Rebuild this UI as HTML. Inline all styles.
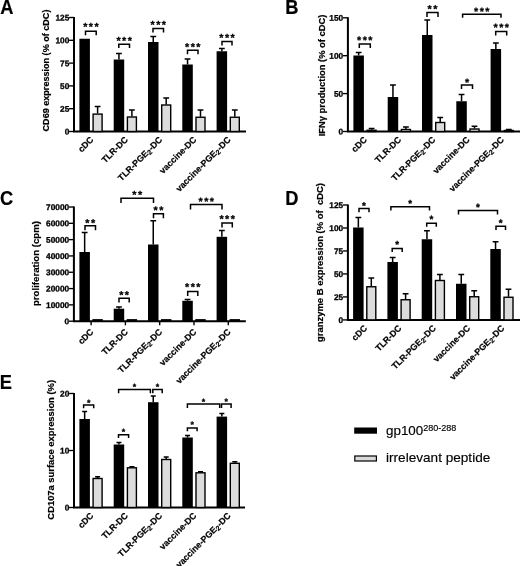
<!DOCTYPE html>
<html><head><meta charset="utf-8"><title>Figure</title>
<style>html,body{margin:0;padding:0;background:#fff}svg{display:block}text{font-family:"Liberation Sans", Arial, sans-serif;fill:#000}</style>
</head><body>
<svg width="520" height="566" viewBox="0 0 520 566">
<rect width="520" height="566" fill="#fff"/>
<path d="M74.00 16.90V131.50H246.00" stroke="#000" stroke-width="2" fill="none"/>
<path d="M69.10 131.50H74.00" stroke="#000" stroke-width="1.35"/>
<text transform="translate(69.30 134.55) rotate(0.05)" font-size="8.3" font-weight="bold" text-anchor="end" stroke="#000" stroke-width="0.3">0</text>
<path d="M69.10 108.70H74.00" stroke="#000" stroke-width="1.35"/>
<text transform="translate(69.30 111.75) rotate(0.05)" font-size="8.3" font-weight="bold" text-anchor="end" stroke="#000" stroke-width="0.3">25</text>
<path d="M69.10 85.90H74.00" stroke="#000" stroke-width="1.35"/>
<text transform="translate(69.30 88.95) rotate(0.05)" font-size="8.3" font-weight="bold" text-anchor="end" stroke="#000" stroke-width="0.3">50</text>
<path d="M69.10 63.10H74.00" stroke="#000" stroke-width="1.35"/>
<text transform="translate(69.30 66.15) rotate(0.05)" font-size="8.3" font-weight="bold" text-anchor="end" stroke="#000" stroke-width="0.3">75</text>
<path d="M69.10 40.30H74.00" stroke="#000" stroke-width="1.35"/>
<text transform="translate(69.30 43.35) rotate(0.05)" font-size="8.3" font-weight="bold" text-anchor="end" stroke="#000" stroke-width="0.3">100</text>
<path d="M69.10 17.50H74.00" stroke="#000" stroke-width="1.35"/>
<text transform="translate(69.30 20.55) rotate(0.05)" font-size="8.3" font-weight="bold" text-anchor="end" stroke="#000" stroke-width="0.3">125</text>
<rect x="79.40" y="38.75" width="10.50" height="92.75" fill="#000"/>
<path d="M97.60 113.60V106.50M94.70 106.50H100.50" stroke="#000" stroke-width="1.5" fill="none"/>
<rect x="93.10" y="114.10" width="9.00" height="17.40" fill="#dcdcdc" stroke="#000" stroke-width="1.4"/>
<path d="M118.95 59.50V53.50M116.05 53.50H121.85" stroke="#000" stroke-width="1.5" fill="none"/>
<rect x="113.70" y="59.50" width="10.50" height="72.00" fill="#000"/>
<path d="M131.90 116.50V110.00M129.00 110.00H134.80" stroke="#000" stroke-width="1.5" fill="none"/>
<rect x="127.40" y="117.00" width="9.00" height="14.50" fill="#dcdcdc" stroke="#000" stroke-width="1.4"/>
<path d="M153.25 42.00V36.50M150.35 36.50H156.15" stroke="#000" stroke-width="1.5" fill="none"/>
<rect x="148.00" y="42.00" width="10.50" height="89.50" fill="#000"/>
<path d="M166.20 104.50V98.00M163.30 98.00H169.10" stroke="#000" stroke-width="1.5" fill="none"/>
<rect x="161.70" y="105.00" width="9.00" height="26.50" fill="#dcdcdc" stroke="#000" stroke-width="1.4"/>
<path d="M187.55 64.50V59.00M184.65 59.00H190.45" stroke="#000" stroke-width="1.5" fill="none"/>
<rect x="182.30" y="64.50" width="10.50" height="67.00" fill="#000"/>
<path d="M200.50 116.75V110.00M197.60 110.00H203.40" stroke="#000" stroke-width="1.5" fill="none"/>
<rect x="196.00" y="117.25" width="9.00" height="14.25" fill="#dcdcdc" stroke="#000" stroke-width="1.4"/>
<path d="M221.85 51.25V48.50M218.95 48.50H224.75" stroke="#000" stroke-width="1.5" fill="none"/>
<rect x="216.60" y="51.25" width="10.50" height="80.25" fill="#000"/>
<path d="M234.80 116.75V110.00M231.90 110.00H237.70" stroke="#000" stroke-width="1.5" fill="none"/>
<rect x="230.30" y="117.25" width="9.00" height="14.25" fill="#dcdcdc" stroke="#000" stroke-width="1.4"/>
<path d="M85.50 35.20V31.20H96.20V35.20" stroke="#000" stroke-width="1.5" fill="none"/>
<text transform="translate(91.57 30.19) rotate(0.05)" font-size="10.7" font-weight="bold" text-anchor="middle" stroke="#000" stroke-width="0.3" stroke-linejoin="round" letter-spacing="1.45">***</text>
<path d="M118.80 48.00V44.20H129.50V48.00" stroke="#000" stroke-width="1.5" fill="none"/>
<text transform="translate(124.88 44.29) rotate(0.05)" font-size="10.7" font-weight="bold" text-anchor="middle" stroke="#000" stroke-width="0.3" stroke-linejoin="round" letter-spacing="1.45">***</text>
<path d="M153.00 32.50V28.50H163.50V32.50" stroke="#000" stroke-width="1.5" fill="none"/>
<text transform="translate(158.97 28.29) rotate(0.05)" font-size="10.7" font-weight="bold" text-anchor="middle" stroke="#000" stroke-width="0.3" stroke-linejoin="round" letter-spacing="1.45">***</text>
<path d="M187.50 54.30V50.30H198.00V54.30" stroke="#000" stroke-width="1.5" fill="none"/>
<text transform="translate(193.47 50.49) rotate(0.05)" font-size="10.7" font-weight="bold" text-anchor="middle" stroke="#000" stroke-width="0.3" stroke-linejoin="round" letter-spacing="1.45">***</text>
<path d="M222.00 45.40V41.40H232.00V45.40" stroke="#000" stroke-width="1.5" fill="none"/>
<text transform="translate(227.72 41.19) rotate(0.05)" font-size="10.7" font-weight="bold" text-anchor="middle" stroke="#000" stroke-width="0.3" stroke-linejoin="round" letter-spacing="1.45">***</text>
<text transform="translate(48.60 70.50) rotate(-90)" font-size="9.07" font-weight="bold" text-anchor="middle" stroke="#000" stroke-width="0.2">CD69 expression (% of cDC)</text>
<text transform="translate(0.2 13.6) scale(0.925 1)" font-size="19.8" font-weight="bold" stroke="#000" stroke-width="0.2">A</text>
<text transform="translate(94.10 140.30) rotate(-45)" font-size="8.8" font-weight="bold" text-anchor="end" stroke="#000" stroke-width="0.2">cDC</text>
<text transform="translate(128.40 140.30) rotate(-45)" font-size="8.8" font-weight="bold" text-anchor="end" stroke="#000" stroke-width="0.2">TLR-DC</text>
<text transform="translate(162.70 140.30) rotate(-45)" font-size="8.8" font-weight="bold" text-anchor="end" stroke="#000" stroke-width="0.2">TLR-PGE<tspan font-size="7" dy="1.5">2</tspan><tspan dy="-1.5">-DC</tspan></text>
<text transform="translate(197.00 140.30) rotate(-45)" font-size="8.8" font-weight="bold" text-anchor="end" stroke="#000" stroke-width="0.2">vaccine-DC</text>
<text transform="translate(231.30 140.30) rotate(-45)" font-size="8.8" font-weight="bold" text-anchor="end" stroke="#000" stroke-width="0.2">vaccine-PGE<tspan font-size="7" dy="1.5">2</tspan><tspan dy="-1.5">-DC</tspan></text>
<path d="M347.90 17.20V131.50H520.00" stroke="#000" stroke-width="2" fill="none"/>
<path d="M343.00 131.50H347.90" stroke="#000" stroke-width="1.35"/>
<text transform="translate(343.20 134.55) rotate(0.05)" font-size="8.3" font-weight="bold" text-anchor="end" stroke="#000" stroke-width="0.3">0</text>
<path d="M343.00 93.60H347.90" stroke="#000" stroke-width="1.35"/>
<text transform="translate(343.20 96.65) rotate(0.05)" font-size="8.3" font-weight="bold" text-anchor="end" stroke="#000" stroke-width="0.3">50</text>
<path d="M343.00 55.70H347.90" stroke="#000" stroke-width="1.35"/>
<text transform="translate(343.20 58.75) rotate(0.05)" font-size="8.3" font-weight="bold" text-anchor="end" stroke="#000" stroke-width="0.3">100</text>
<path d="M343.00 17.80H347.90" stroke="#000" stroke-width="1.35"/>
<text transform="translate(343.20 20.85) rotate(0.05)" font-size="8.3" font-weight="bold" text-anchor="end" stroke="#000" stroke-width="0.3">150</text>
<path d="M358.65 55.50V52.50M355.75 52.50H361.55" stroke="#000" stroke-width="1.5" fill="none"/>
<rect x="353.40" y="55.50" width="10.50" height="76.00" fill="#000"/>
<path d="M371.60 129.75V128.50M368.70 128.50H374.50" stroke="#000" stroke-width="1.5" fill="none"/>
<rect x="367.10" y="130.25" width="9.00" height="1.25" fill="#dcdcdc" stroke="#000" stroke-width="1.4"/>
<path d="M392.95 97.00V85.00M390.05 85.00H395.85" stroke="#000" stroke-width="1.5" fill="none"/>
<rect x="387.70" y="97.00" width="10.50" height="34.50" fill="#000"/>
<path d="M405.90 129.00V127.00M403.00 127.00H408.80" stroke="#000" stroke-width="1.5" fill="none"/>
<rect x="401.40" y="129.50" width="9.00" height="2.00" fill="#dcdcdc" stroke="#000" stroke-width="1.4"/>
<path d="M427.25 35.00V20.00M424.35 20.00H430.15" stroke="#000" stroke-width="1.5" fill="none"/>
<rect x="422.00" y="35.00" width="10.50" height="96.50" fill="#000"/>
<path d="M440.20 122.00V117.50M437.30 117.50H443.10" stroke="#000" stroke-width="1.5" fill="none"/>
<rect x="435.70" y="122.50" width="9.00" height="9.00" fill="#dcdcdc" stroke="#000" stroke-width="1.4"/>
<path d="M461.55 101.25V94.50M458.65 94.50H464.45" stroke="#000" stroke-width="1.5" fill="none"/>
<rect x="456.30" y="101.25" width="10.50" height="30.25" fill="#000"/>
<path d="M474.50 128.50V126.25M471.60 126.25H477.40" stroke="#000" stroke-width="1.5" fill="none"/>
<rect x="470.00" y="129.00" width="9.00" height="2.50" fill="#dcdcdc" stroke="#000" stroke-width="1.4"/>
<path d="M495.85 49.00V43.00M492.95 43.00H498.75" stroke="#000" stroke-width="1.5" fill="none"/>
<rect x="490.60" y="49.00" width="10.50" height="82.50" fill="#000"/>
<path d="M508.80 130.00V129.50M505.90 129.50H511.70" stroke="#000" stroke-width="1.5" fill="none"/>
<rect x="504.30" y="130.50" width="9.00" height="1.00" fill="#dcdcdc" stroke="#000" stroke-width="1.4"/>
<path d="M359.30 47.90V43.90H370.30V47.90" stroke="#000" stroke-width="1.5" fill="none"/>
<text transform="translate(365.53 43.79) rotate(0.05)" font-size="10.7" font-weight="bold" text-anchor="middle" stroke="#000" stroke-width="0.3" stroke-linejoin="round" letter-spacing="1.45">***</text>
<path d="M427.00 17.10V12.60H438.00V17.10" stroke="#000" stroke-width="1.5" fill="none"/>
<text transform="translate(433.23 12.39) rotate(0.05)" font-size="10.7" font-weight="bold" text-anchor="middle" stroke="#000" stroke-width="0.3" stroke-linejoin="round" letter-spacing="1.45">**</text>
<path d="M462.60 17.80V14.20H501.00V17.80" stroke="#000" stroke-width="1.5" fill="none"/>
<text transform="translate(482.53 14.89) rotate(0.05)" font-size="10.7" font-weight="bold" text-anchor="middle" stroke="#000" stroke-width="0.3" stroke-linejoin="round" letter-spacing="1.45">***</text>
<path d="M495.70 35.50V31.50H506.70V35.50" stroke="#000" stroke-width="1.5" fill="none"/>
<text transform="translate(501.93 30.89) rotate(0.05)" font-size="10.7" font-weight="bold" text-anchor="middle" stroke="#000" stroke-width="0.3" stroke-linejoin="round" letter-spacing="1.45">***</text>
<path d="M461.50 89.00V85.00H472.50V89.00" stroke="#000" stroke-width="1.5" fill="none"/>
<text transform="translate(467.73 86.09) rotate(0.05)" font-size="10.7" font-weight="bold" text-anchor="middle" stroke="#000" stroke-width="0.3" stroke-linejoin="round" letter-spacing="1.45">*</text>
<text transform="translate(324.60 75.50) rotate(-90)" font-size="9.37" font-weight="bold" text-anchor="middle" stroke="#000" stroke-width="0.2">IFNγ production (% of cDC)</text>
<text transform="translate(285.15 13.8) scale(0.925 1)" font-size="19.8" font-weight="bold" stroke="#000" stroke-width="0.2">B</text>
<text transform="translate(367.40 140.30) rotate(-45)" font-size="8.8" font-weight="bold" text-anchor="end" stroke="#000" stroke-width="0.2">cDC</text>
<text transform="translate(401.70 140.30) rotate(-45)" font-size="8.8" font-weight="bold" text-anchor="end" stroke="#000" stroke-width="0.2">TLR-DC</text>
<text transform="translate(436.00 140.30) rotate(-45)" font-size="8.8" font-weight="bold" text-anchor="end" stroke="#000" stroke-width="0.2">TLR-PGE<tspan font-size="7" dy="1.5">2</tspan><tspan dy="-1.5">-DC</tspan></text>
<text transform="translate(470.30 140.30) rotate(-45)" font-size="8.8" font-weight="bold" text-anchor="end" stroke="#000" stroke-width="0.2">vaccine-DC</text>
<text transform="translate(504.60 140.30) rotate(-45)" font-size="8.8" font-weight="bold" text-anchor="end" stroke="#000" stroke-width="0.2">vaccine-PGE<tspan font-size="7" dy="1.5">2</tspan><tspan dy="-1.5">-DC</tspan></text>
<path d="M73.90 206.40V321.20H245.80" stroke="#000" stroke-width="2" fill="none"/>
<path d="M69.00 321.20H73.90" stroke="#000" stroke-width="1.35"/>
<text transform="translate(69.20 324.25) rotate(0.05)" font-size="8.3" font-weight="bold" text-anchor="end" stroke="#000" stroke-width="0.3">0</text>
<path d="M69.00 304.89H73.90" stroke="#000" stroke-width="1.35"/>
<text transform="translate(69.20 307.94) rotate(0.05)" font-size="8.3" font-weight="bold" text-anchor="end" stroke="#000" stroke-width="0.3">10000</text>
<path d="M69.00 288.57H73.90" stroke="#000" stroke-width="1.35"/>
<text transform="translate(69.20 291.62) rotate(0.05)" font-size="8.3" font-weight="bold" text-anchor="end" stroke="#000" stroke-width="0.3">20000</text>
<path d="M69.00 272.26H73.90" stroke="#000" stroke-width="1.35"/>
<text transform="translate(69.20 275.31) rotate(0.05)" font-size="8.3" font-weight="bold" text-anchor="end" stroke="#000" stroke-width="0.3">30000</text>
<path d="M69.00 255.94H73.90" stroke="#000" stroke-width="1.35"/>
<text transform="translate(69.20 258.99) rotate(0.05)" font-size="8.3" font-weight="bold" text-anchor="end" stroke="#000" stroke-width="0.3">40000</text>
<path d="M69.00 239.63H73.90" stroke="#000" stroke-width="1.35"/>
<text transform="translate(69.20 242.68) rotate(0.05)" font-size="8.3" font-weight="bold" text-anchor="end" stroke="#000" stroke-width="0.3">50000</text>
<path d="M69.00 223.31H73.90" stroke="#000" stroke-width="1.35"/>
<text transform="translate(69.20 226.36) rotate(0.05)" font-size="8.3" font-weight="bold" text-anchor="end" stroke="#000" stroke-width="0.3">60000</text>
<path d="M69.00 207.00H73.90" stroke="#000" stroke-width="1.35"/>
<text transform="translate(69.20 210.05) rotate(0.05)" font-size="8.3" font-weight="bold" text-anchor="end" stroke="#000" stroke-width="0.3">70000</text>
<path d="M91.10 321.20V325.30" stroke="#000" stroke-width="1.4"/>
<path d="M125.40 321.20V325.30" stroke="#000" stroke-width="1.4"/>
<path d="M159.70 321.20V325.30" stroke="#000" stroke-width="1.4"/>
<path d="M194.00 321.20V325.30" stroke="#000" stroke-width="1.4"/>
<path d="M228.30 321.20V325.30" stroke="#000" stroke-width="1.4"/>
<path d="M84.65 252.00V232.50M81.75 232.50H87.55" stroke="#000" stroke-width="1.5" fill="none"/>
<rect x="79.40" y="252.00" width="10.50" height="69.20" fill="#000"/>
<rect x="93.10" y="319.80" width="9.00" height="1.40" fill="#dcdcdc" stroke="#000" stroke-width="1.4"/>
<path d="M118.95 308.70V307.10M116.05 307.10H121.85" stroke="#000" stroke-width="1.5" fill="none"/>
<rect x="113.70" y="308.70" width="10.50" height="12.50" fill="#000"/>
<rect x="127.40" y="319.80" width="9.00" height="1.40" fill="#dcdcdc" stroke="#000" stroke-width="1.4"/>
<path d="M153.25 244.50V220.80M150.35 220.80H156.15" stroke="#000" stroke-width="1.5" fill="none"/>
<rect x="148.00" y="244.50" width="10.50" height="76.70" fill="#000"/>
<rect x="161.70" y="319.80" width="9.00" height="1.40" fill="#dcdcdc" stroke="#000" stroke-width="1.4"/>
<path d="M187.55 300.80V299.40M184.65 299.40H190.45" stroke="#000" stroke-width="1.5" fill="none"/>
<rect x="182.30" y="300.80" width="10.50" height="20.40" fill="#000"/>
<rect x="196.00" y="319.80" width="9.00" height="1.40" fill="#dcdcdc" stroke="#000" stroke-width="1.4"/>
<path d="M221.85 236.80V230.40M218.95 230.40H224.75" stroke="#000" stroke-width="1.5" fill="none"/>
<rect x="216.60" y="236.80" width="10.50" height="84.40" fill="#000"/>
<rect x="230.30" y="319.80" width="9.00" height="1.40" fill="#dcdcdc" stroke="#000" stroke-width="1.4"/>
<path d="M85.00 230.20V225.70H95.50V230.20" stroke="#000" stroke-width="1.5" fill="none"/>
<text transform="translate(90.97 226.49) rotate(0.05)" font-size="10.7" font-weight="bold" text-anchor="middle" stroke="#000" stroke-width="0.3" stroke-linejoin="round" letter-spacing="1.45">**</text>
<path d="M119.00 302.60V298.30H129.20V302.60" stroke="#000" stroke-width="1.5" fill="none"/>
<text transform="translate(124.82 298.49) rotate(0.05)" font-size="10.7" font-weight="bold" text-anchor="middle" stroke="#000" stroke-width="0.3" stroke-linejoin="round" letter-spacing="1.45">**</text>
<path d="M121.00 203.00V198.30H153.50V203.00" stroke="#000" stroke-width="1.5" fill="none"/>
<text transform="translate(137.97 198.29) rotate(0.05)" font-size="10.7" font-weight="bold" text-anchor="middle" stroke="#000" stroke-width="0.3" stroke-linejoin="round" letter-spacing="1.45">**</text>
<path d="M153.50 218.20V213.70H163.40V218.20" stroke="#000" stroke-width="1.5" fill="none"/>
<text transform="translate(159.17 213.69) rotate(0.05)" font-size="10.7" font-weight="bold" text-anchor="middle" stroke="#000" stroke-width="0.3" stroke-linejoin="round" letter-spacing="1.45">**</text>
<path d="M190.50 209.50V204.50H222.00V209.50" stroke="#000" stroke-width="1.5" fill="none"/>
<text transform="translate(206.97 205.09) rotate(0.05)" font-size="10.7" font-weight="bold" text-anchor="middle" stroke="#000" stroke-width="0.3" stroke-linejoin="round" letter-spacing="1.45">***</text>
<path d="M222.00 227.40V223.10H232.30V227.40" stroke="#000" stroke-width="1.5" fill="none"/>
<text transform="translate(227.88 222.39) rotate(0.05)" font-size="10.7" font-weight="bold" text-anchor="middle" stroke="#000" stroke-width="0.3" stroke-linejoin="round" letter-spacing="1.45">***</text>
<path d="M187.70 295.90V291.60H197.80V295.90" stroke="#000" stroke-width="1.5" fill="none"/>
<text transform="translate(193.47 290.59) rotate(0.05)" font-size="10.7" font-weight="bold" text-anchor="middle" stroke="#000" stroke-width="0.3" stroke-linejoin="round" letter-spacing="1.45">***</text>
<text transform="translate(39.00 263.50) rotate(-90)" font-size="9.65" font-weight="bold" text-anchor="middle" stroke="#000" stroke-width="0.2">proliferation (cpm)</text>
<text transform="translate(0 205) scale(0.925 1)" font-size="19.8" font-weight="bold" stroke="#000" stroke-width="0.2">C</text>
<text transform="translate(94.10 332.40) rotate(-45)" font-size="8.8" font-weight="bold" text-anchor="end" stroke="#000" stroke-width="0.2">cDC</text>
<text transform="translate(128.40 332.40) rotate(-45)" font-size="8.8" font-weight="bold" text-anchor="end" stroke="#000" stroke-width="0.2">TLR-DC</text>
<text transform="translate(162.70 332.40) rotate(-45)" font-size="8.8" font-weight="bold" text-anchor="end" stroke="#000" stroke-width="0.2">TLR-PGE<tspan font-size="7" dy="1.5">2</tspan><tspan dy="-1.5">-DC</tspan></text>
<text transform="translate(197.00 332.40) rotate(-45)" font-size="8.8" font-weight="bold" text-anchor="end" stroke="#000" stroke-width="0.2">vaccine-DC</text>
<text transform="translate(231.30 332.40) rotate(-45)" font-size="8.8" font-weight="bold" text-anchor="end" stroke="#000" stroke-width="0.2">vaccine-PGE<tspan font-size="7" dy="1.5">2</tspan><tspan dy="-1.5">-DC</tspan></text>
<path d="M347.90 204.40V319.90H520.00" stroke="#000" stroke-width="2" fill="none"/>
<path d="M343.00 319.90H347.90" stroke="#000" stroke-width="1.35"/>
<text transform="translate(343.20 322.95) rotate(0.05)" font-size="8.3" font-weight="bold" text-anchor="end" stroke="#000" stroke-width="0.3">0</text>
<path d="M343.00 296.92H347.90" stroke="#000" stroke-width="1.35"/>
<text transform="translate(343.20 299.97) rotate(0.05)" font-size="8.3" font-weight="bold" text-anchor="end" stroke="#000" stroke-width="0.3">25</text>
<path d="M343.00 273.94H347.90" stroke="#000" stroke-width="1.35"/>
<text transform="translate(343.20 276.99) rotate(0.05)" font-size="8.3" font-weight="bold" text-anchor="end" stroke="#000" stroke-width="0.3">50</text>
<path d="M343.00 250.96H347.90" stroke="#000" stroke-width="1.35"/>
<text transform="translate(343.20 254.01) rotate(0.05)" font-size="8.3" font-weight="bold" text-anchor="end" stroke="#000" stroke-width="0.3">75</text>
<path d="M343.00 227.98H347.90" stroke="#000" stroke-width="1.35"/>
<text transform="translate(343.20 231.03) rotate(0.05)" font-size="8.3" font-weight="bold" text-anchor="end" stroke="#000" stroke-width="0.3">100</text>
<path d="M343.00 205.00H347.90" stroke="#000" stroke-width="1.35"/>
<text transform="translate(343.20 208.05) rotate(0.05)" font-size="8.3" font-weight="bold" text-anchor="end" stroke="#000" stroke-width="0.3">125</text>
<path d="M358.35 227.50V217.50M355.45 217.50H361.25" stroke="#000" stroke-width="1.5" fill="none"/>
<rect x="353.10" y="227.50" width="10.50" height="92.40" fill="#000"/>
<path d="M371.30 286.25V278.00M368.40 278.00H374.20" stroke="#000" stroke-width="1.5" fill="none"/>
<rect x="366.80" y="286.75" width="9.00" height="33.15" fill="#dcdcdc" stroke="#000" stroke-width="1.4"/>
<path d="M392.65 262.00V257.50M389.75 257.50H395.55" stroke="#000" stroke-width="1.5" fill="none"/>
<rect x="387.40" y="262.00" width="10.50" height="57.90" fill="#000"/>
<path d="M405.60 299.25V293.75M402.70 293.75H408.50" stroke="#000" stroke-width="1.5" fill="none"/>
<rect x="401.10" y="299.75" width="9.00" height="20.15" fill="#dcdcdc" stroke="#000" stroke-width="1.4"/>
<path d="M426.95 239.25V230.75M424.05 230.75H429.85" stroke="#000" stroke-width="1.5" fill="none"/>
<rect x="421.70" y="239.25" width="10.50" height="80.65" fill="#000"/>
<path d="M439.90 280.00V274.50M437.00 274.50H442.80" stroke="#000" stroke-width="1.5" fill="none"/>
<rect x="435.40" y="280.50" width="9.00" height="39.40" fill="#dcdcdc" stroke="#000" stroke-width="1.4"/>
<path d="M461.25 283.75V274.50M458.35 274.50H464.15" stroke="#000" stroke-width="1.5" fill="none"/>
<rect x="456.00" y="283.75" width="10.50" height="36.15" fill="#000"/>
<path d="M474.20 296.25V290.75M471.30 290.75H477.10" stroke="#000" stroke-width="1.5" fill="none"/>
<rect x="469.70" y="296.75" width="9.00" height="23.15" fill="#dcdcdc" stroke="#000" stroke-width="1.4"/>
<path d="M495.55 249.00V241.75M492.65 241.75H498.45" stroke="#000" stroke-width="1.5" fill="none"/>
<rect x="490.30" y="249.00" width="10.50" height="70.90" fill="#000"/>
<path d="M508.50 296.75V289.25M505.60 289.25H511.40" stroke="#000" stroke-width="1.5" fill="none"/>
<rect x="504.00" y="297.25" width="9.00" height="22.65" fill="#dcdcdc" stroke="#000" stroke-width="1.4"/>
<path d="M359.00 212.20V208.60H369.00V212.20" stroke="#000" stroke-width="1.5" fill="none"/>
<text transform="translate(364.73 209.04) rotate(0.05)" font-size="9.8" font-weight="bold" text-anchor="middle" stroke="#000" stroke-width="0.3" stroke-linejoin="round" letter-spacing="1.45">*</text>
<path d="M392.20 252.10V248.50H402.20V252.10" stroke="#000" stroke-width="1.5" fill="none"/>
<text transform="translate(397.93 247.74) rotate(0.05)" font-size="9.8" font-weight="bold" text-anchor="middle" stroke="#000" stroke-width="0.3" stroke-linejoin="round" letter-spacing="1.45">*</text>
<path d="M390.90 210.50V206.80H429.50V210.50" stroke="#000" stroke-width="1.5" fill="none"/>
<text transform="translate(410.93 206.64) rotate(0.05)" font-size="9.8" font-weight="bold" text-anchor="middle" stroke="#000" stroke-width="0.3" stroke-linejoin="round" letter-spacing="1.45">*</text>
<path d="M426.70 226.70V223.20H436.30V226.70" stroke="#000" stroke-width="1.5" fill="none"/>
<text transform="translate(432.23 222.54) rotate(0.05)" font-size="9.8" font-weight="bold" text-anchor="middle" stroke="#000" stroke-width="0.3" stroke-linejoin="round" letter-spacing="1.45">*</text>
<path d="M458.50 214.50V210.50H497.50V214.50" stroke="#000" stroke-width="1.5" fill="none"/>
<text transform="translate(478.73 210.44) rotate(0.05)" font-size="9.8" font-weight="bold" text-anchor="middle" stroke="#000" stroke-width="0.3" stroke-linejoin="round" letter-spacing="1.45">*</text>
<path d="M496.00 229.95V226.25H505.50V229.95" stroke="#000" stroke-width="1.5" fill="none"/>
<text transform="translate(501.48 226.19) rotate(0.05)" font-size="9.8" font-weight="bold" text-anchor="middle" stroke="#000" stroke-width="0.3" stroke-linejoin="round" letter-spacing="1.45">*</text>
<text transform="translate(323.00 262.50) rotate(-90)" font-size="9.45" font-weight="bold" text-anchor="middle" stroke="#000" stroke-width="0.2">granzyme B expression (% of &#160;cDC)</text>
<text transform="translate(285.15 204.8) scale(0.925 1)" font-size="19.8" font-weight="bold" stroke="#000" stroke-width="0.2">D</text>
<text transform="translate(367.80 328.70) rotate(-45)" font-size="8.8" font-weight="bold" text-anchor="end" stroke="#000" stroke-width="0.2">cDC</text>
<text transform="translate(402.10 328.70) rotate(-45)" font-size="8.8" font-weight="bold" text-anchor="end" stroke="#000" stroke-width="0.2">TLR-DC</text>
<text transform="translate(436.40 328.70) rotate(-45)" font-size="8.8" font-weight="bold" text-anchor="end" stroke="#000" stroke-width="0.2">TLR-PGE<tspan font-size="7" dy="1.5">2</tspan><tspan dy="-1.5">-DC</tspan></text>
<text transform="translate(470.70 328.70) rotate(-45)" font-size="8.8" font-weight="bold" text-anchor="end" stroke="#000" stroke-width="0.2">vaccine-DC</text>
<text transform="translate(505.00 328.70) rotate(-45)" font-size="8.8" font-weight="bold" text-anchor="end" stroke="#000" stroke-width="0.2">vaccine-PGE<tspan font-size="7" dy="1.5">2</tspan><tspan dy="-1.5">-DC</tspan></text>
<path d="M74.00 392.90V507.50H245.00" stroke="#000" stroke-width="2" fill="none"/>
<path d="M69.10 507.50H74.00" stroke="#000" stroke-width="1.35"/>
<text transform="translate(69.30 510.55) rotate(0.05)" font-size="8.3" font-weight="bold" text-anchor="end" stroke="#000" stroke-width="0.3">0</text>
<path d="M69.10 450.50H74.00" stroke="#000" stroke-width="1.35"/>
<text transform="translate(69.30 453.55) rotate(0.05)" font-size="8.3" font-weight="bold" text-anchor="end" stroke="#000" stroke-width="0.3">10</text>
<path d="M69.10 393.50H74.00" stroke="#000" stroke-width="1.35"/>
<text transform="translate(69.30 396.55) rotate(0.05)" font-size="8.3" font-weight="bold" text-anchor="end" stroke="#000" stroke-width="0.3">20</text>
<path d="M84.65 419.00V411.50M82.15 411.50H87.15" stroke="#000" stroke-width="1.5" fill="none"/>
<rect x="79.40" y="419.00" width="10.50" height="88.50" fill="#000"/>
<path d="M97.60 478.00V476.75M95.10 476.75H100.10" stroke="#000" stroke-width="1.5" fill="none"/>
<rect x="93.10" y="478.50" width="9.00" height="29.00" fill="#dcdcdc" stroke="#000" stroke-width="1.4"/>
<path d="M118.95 444.50V442.60M116.45 442.60H121.45" stroke="#000" stroke-width="1.5" fill="none"/>
<rect x="113.70" y="444.50" width="10.50" height="63.00" fill="#000"/>
<path d="M131.90 467.30V466.80M129.40 466.80H134.40" stroke="#000" stroke-width="1.5" fill="none"/>
<rect x="127.40" y="467.80" width="9.00" height="39.70" fill="#dcdcdc" stroke="#000" stroke-width="1.4"/>
<path d="M153.25 402.20V396.00M150.75 396.00H155.75" stroke="#000" stroke-width="1.5" fill="none"/>
<rect x="148.00" y="402.20" width="10.50" height="105.30" fill="#000"/>
<path d="M166.20 459.00V457.00M163.70 457.00H168.70" stroke="#000" stroke-width="1.5" fill="none"/>
<rect x="161.70" y="459.50" width="9.00" height="48.00" fill="#dcdcdc" stroke="#000" stroke-width="1.4"/>
<path d="M187.55 437.50V435.40M185.05 435.40H190.05" stroke="#000" stroke-width="1.5" fill="none"/>
<rect x="182.30" y="437.50" width="10.50" height="70.00" fill="#000"/>
<path d="M200.50 472.30V471.80M198.00 471.80H203.00" stroke="#000" stroke-width="1.5" fill="none"/>
<rect x="196.00" y="472.80" width="9.00" height="34.70" fill="#dcdcdc" stroke="#000" stroke-width="1.4"/>
<path d="M221.85 416.60V413.50M219.35 413.50H224.35" stroke="#000" stroke-width="1.5" fill="none"/>
<rect x="216.60" y="416.60" width="10.50" height="90.90" fill="#000"/>
<path d="M234.80 462.80V461.80M232.30 461.80H237.30" stroke="#000" stroke-width="1.5" fill="none"/>
<rect x="230.30" y="463.30" width="9.00" height="44.20" fill="#dcdcdc" stroke="#000" stroke-width="1.4"/>
<path d="M83.60 408.30V405.00H93.70V408.30" stroke="#000" stroke-width="1.5" fill="none"/>
<text transform="translate(89.38 405.65) rotate(0.05)" font-size="8.8" font-weight="bold" text-anchor="middle" stroke="#000" stroke-width="0.3" stroke-linejoin="round" letter-spacing="1.45">*</text>
<path d="M118.50 438.00V434.70H128.60V438.00" stroke="#000" stroke-width="1.5" fill="none"/>
<text transform="translate(124.27 434.75) rotate(0.05)" font-size="8.8" font-weight="bold" text-anchor="middle" stroke="#000" stroke-width="0.3" stroke-linejoin="round" letter-spacing="1.45">*</text>
<path d="M118.60 393.20V389.40H150.40V393.20" stroke="#000" stroke-width="1.5" fill="none"/>
<text transform="translate(135.22 389.65) rotate(0.05)" font-size="8.8" font-weight="bold" text-anchor="middle" stroke="#000" stroke-width="0.3" stroke-linejoin="round" letter-spacing="1.45">*</text>
<path d="M152.80 393.20V389.40H162.20V393.20" stroke="#000" stroke-width="1.5" fill="none"/>
<text transform="translate(158.22 389.65) rotate(0.05)" font-size="8.8" font-weight="bold" text-anchor="middle" stroke="#000" stroke-width="0.3" stroke-linejoin="round" letter-spacing="1.45">*</text>
<path d="M187.40 408.10V404.10H219.70V408.10" stroke="#000" stroke-width="1.5" fill="none"/>
<text transform="translate(204.28 404.85) rotate(0.05)" font-size="8.8" font-weight="bold" text-anchor="middle" stroke="#000" stroke-width="0.3" stroke-linejoin="round" letter-spacing="1.45">*</text>
<path d="M221.50 408.10V404.10H231.10V408.10" stroke="#000" stroke-width="1.5" fill="none"/>
<text transform="translate(227.03 404.55) rotate(0.05)" font-size="8.8" font-weight="bold" text-anchor="middle" stroke="#000" stroke-width="0.3" stroke-linejoin="round" letter-spacing="1.45">*</text>
<path d="M187.40 431.30V428.10H197.10V431.30" stroke="#000" stroke-width="1.5" fill="none"/>
<text transform="translate(192.97 427.55) rotate(0.05)" font-size="8.8" font-weight="bold" text-anchor="middle" stroke="#000" stroke-width="0.3" stroke-linejoin="round" letter-spacing="1.45">*</text>
<text transform="translate(53.50 449.80) rotate(-90)" font-size="9.38" font-weight="bold" text-anchor="middle" stroke="#000" stroke-width="0.2">CD107a surface expression (%)</text>
<text transform="translate(-0.2 389.1) scale(0.925 1)" font-size="19.8" font-weight="bold" stroke="#000" stroke-width="0.2">E</text>
<text transform="translate(94.10 516.30) rotate(-45)" font-size="8.8" font-weight="bold" text-anchor="end" stroke="#000" stroke-width="0.2">cDC</text>
<text transform="translate(128.40 516.30) rotate(-45)" font-size="8.8" font-weight="bold" text-anchor="end" stroke="#000" stroke-width="0.2">TLR-DC</text>
<text transform="translate(162.70 516.30) rotate(-45)" font-size="8.8" font-weight="bold" text-anchor="end" stroke="#000" stroke-width="0.2">TLR-PGE<tspan font-size="7" dy="1.5">2</tspan><tspan dy="-1.5">-DC</tspan></text>
<text transform="translate(197.00 516.30) rotate(-45)" font-size="8.8" font-weight="bold" text-anchor="end" stroke="#000" stroke-width="0.2">vaccine-DC</text>
<text transform="translate(231.30 516.30) rotate(-45)" font-size="8.8" font-weight="bold" text-anchor="end" stroke="#000" stroke-width="0.2">vaccine-PGE<tspan font-size="7" dy="1.5">2</tspan><tspan dy="-1.5">-DC</tspan></text>
<rect x="354.2" y="427.5" width="22.8" height="6.2" fill="#000"/>
<rect x="354.8" y="456" width="21.6" height="5" fill="#d9d9d9" stroke="#000" stroke-width="1.2"/>
<text x="386" y="435.3" font-size="13.4" stroke="#000" stroke-width="0.15">gp100<tspan font-size="9" dy="-4">280-288</tspan></text>
<text x="386" y="461.8" font-size="13.6" stroke="#000" stroke-width="0.15">irrelevant peptide</text>
</svg>
</body></html>
